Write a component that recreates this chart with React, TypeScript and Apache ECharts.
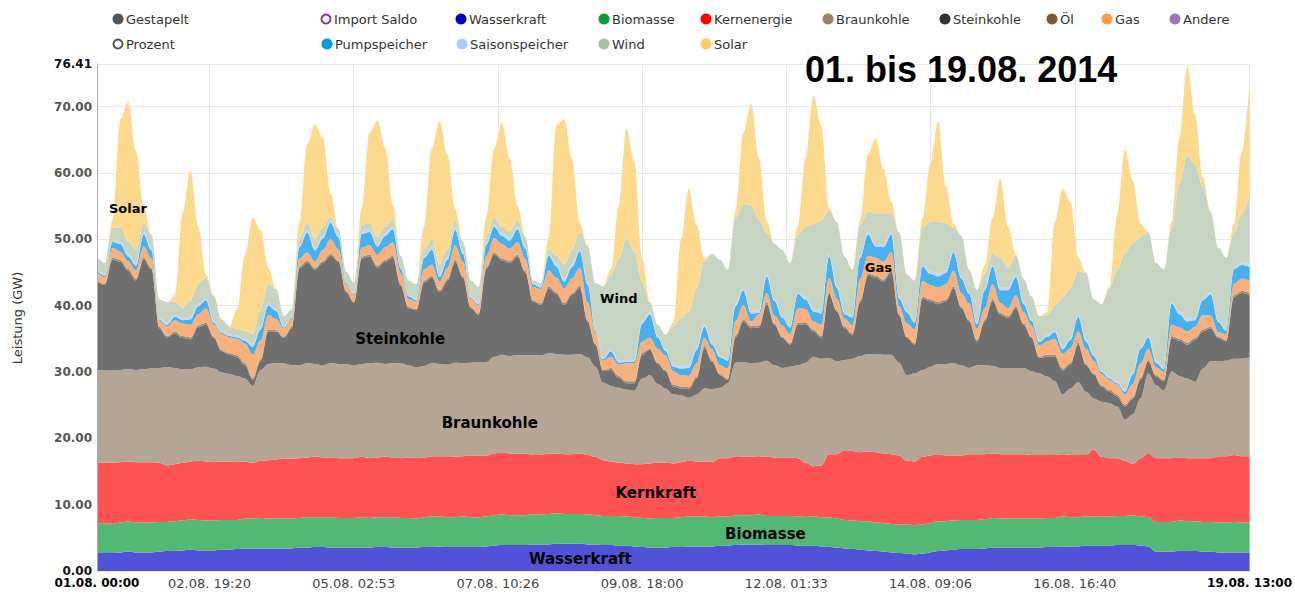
import React, { useEffect, useRef } from 'react';
import * as echarts from 'echarts';

// 3-hour samples from 01.08.2014 00:00 (index 0) to 19.08.2014 12:00 (index 148)
const START_MS = Date.UTC(2014, 7, 1, 0, 0, 0);
const STEP_HOURS = 3;
const HOUR_MS = 3600 * 1000;

const WASSERKRAFT = [
  2.7, 2.7, 2.7, 2.8, 2.9, 2.8, 2.8, 2.8,
  2.9, 3.0, 3.0, 3.1, 3.2, 3.1, 3.1, 3.1,
  3.2, 3.2, 3.3, 3.4, 3.4, 3.4, 3.4, 3.4,
  3.4, 3.4, 3.5, 3.5, 3.6, 3.6, 3.5, 3.5,
  3.5, 3.5, 3.5, 3.5, 3.6, 3.6, 3.5, 3.5,
  3.5, 3.5, 3.6, 3.6, 3.7, 3.6, 3.6, 3.6,
  3.6, 3.6, 3.7, 3.8, 3.9, 3.9, 3.9, 3.9,
  4.0, 4.0, 4.0, 4.1, 4.1, 4.1, 4.1, 4.0,
  4.0, 3.9, 3.9, 3.8, 3.8, 3.7, 3.6, 3.5,
  3.5, 3.5, 3.6, 3.6, 3.7, 3.7, 3.7, 3.7,
  3.8, 3.8, 3.9, 4.0, 4.0, 4.0, 3.9, 3.9,
  3.9, 3.9, 3.8, 3.8, 3.8, 3.7, 3.6, 3.5,
  3.4, 3.3, 3.2, 3.1, 3.0, 2.9, 2.8, 2.7,
  2.6, 2.5, 2.6, 2.8, 3.0, 3.1, 3.2, 3.3,
  3.3, 3.3, 3.4, 3.5, 3.5, 3.5, 3.5, 3.5,
  3.5, 3.5, 3.6, 3.6, 3.7, 3.7, 3.7, 3.8,
  3.8, 3.8, 3.8, 3.9, 3.9, 3.9, 3.8, 3.7,
  2.9, 2.9, 2.9, 3.0, 3.0, 3.0, 2.9, 2.9,
  2.8, 2.8, 2.8, 2.8, 2.8,
];

const BIOMASSE = [
  4.5, 4.5, 4.4, 4.5, 4.6, 4.5, 4.5, 4.5,
  4.5, 4.4, 4.5, 4.5, 4.6, 4.6, 4.5, 4.5,
  4.5, 4.5, 4.4, 4.5, 4.5, 4.6, 4.5, 4.5,
  4.5, 4.5, 4.5, 4.6, 4.5, 4.5, 4.6, 4.5,
  4.5, 4.5, 4.6, 4.5, 4.5, 4.5, 4.6, 4.5,
  4.5, 4.4, 4.5, 4.6, 4.5, 4.5, 4.5, 4.6,
  4.5, 4.5, 4.5, 4.6, 4.6, 4.5, 4.5, 4.5,
  4.5, 4.5, 4.6, 4.6, 4.5, 4.5, 4.5, 4.5,
  4.4, 4.4, 4.4, 4.5, 4.4, 4.4, 4.4, 4.4,
  4.5, 4.5, 4.4, 4.5, 4.5, 4.5, 4.5, 4.4,
  4.4, 4.4, 4.5, 4.4, 4.4, 4.5, 4.4, 4.4,
  4.4, 4.4, 4.4, 4.5, 4.4, 4.4, 4.5, 4.4,
  4.3, 4.3, 4.3, 4.4, 4.3, 4.3, 4.3, 4.3,
  4.4, 4.4, 4.4, 4.4, 4.5, 4.4, 4.4, 4.4,
  4.4, 4.4, 4.4, 4.5, 4.4, 4.4, 4.4, 4.4,
  4.4, 4.4, 4.4, 4.4, 4.5, 4.4, 4.4, 4.4,
  4.4, 4.4, 4.4, 4.4, 4.4, 4.5, 4.4, 4.4,
  4.5, 4.5, 4.5, 4.6, 4.5, 4.5, 4.5, 4.5,
  4.5, 4.5, 4.6, 4.5, 4.5,
];

const KERNENERGIE = [
  9.1, 9.1, 9.2, 9.1, 9.0, 9.1, 9.1, 9.1,
  8.9, 8.5, 8.6, 8.7, 8.7, 8.9, 8.9, 8.8,
  8.8, 8.8, 8.7, 8.6, 8.4, 8.6, 8.8, 8.9,
  9.0, 9.0, 9.0, 9.0, 9.1, 9.0, 9.0, 9.0,
  9.0, 9.0, 9.1, 9.0, 9.0, 9.1, 9.0, 9.0,
  9.1, 9.1, 9.0, 9.1, 9.1, 9.2, 9.1, 9.1,
  9.3, 9.3, 9.2, 9.3, 9.4, 9.3, 9.3, 9.3,
  9.0, 9.0, 9.1, 9.0, 9.0, 9.0, 9.1, 9.0,
  8.8, 8.4, 8.2, 8.0, 8.0, 8.0, 8.1, 8.3,
  8.3, 8.3, 8.2, 8.3, 8.4, 8.3, 8.3, 8.3,
  8.8, 8.8, 8.9, 8.8, 8.8, 8.8, 8.9, 8.8,
  8.8, 8.8, 8.8, 8.0, 7.6, 7.8, 9.5, 9.7,
  10.5, 10.5, 10.4, 10.5, 10.6, 10.5, 10.5, 10.4,
  9.6, 9.6, 10.2, 10.2, 10.1, 9.9, 9.8, 9.7,
  9.9, 9.9, 9.8, 9.7, 9.7, 9.7, 9.7, 9.7,
  9.6, 9.6, 9.5, 9.5, 9.4, 9.4, 9.4, 9.3,
  10.1, 9.0, 8.8, 8.7, 8.3, 7.7, 8.8, 9.7,
  9.6, 9.6, 9.6, 9.5, 9.5, 9.5, 9.6, 9.6,
  10.0, 10.0, 10.1, 10.0, 10.0,
];

const BRAUNKOHLE = [
  13.9, 13.9, 13.9, 13.9, 13.9, 13.9, 14.0, 14.1,
  14.3, 14.8, 14.5, 14.1, 13.9, 14.1, 14.3, 14.1,
  13.4, 13.2, 13.0, 12.5, 11.6, 13.7, 14.5, 14.5,
  14.4, 14.1, 14.0, 14.2, 14.0, 13.9, 14.2, 14.2,
  14.2, 14.0, 14.0, 14.3, 14.3, 14.0, 14.2, 14.3,
  13.9, 13.7, 13.8, 14.1, 13.9, 13.8, 14.2, 14.0,
  14.0, 14.1, 14.1, 14.6, 14.7, 14.7, 14.8, 14.8,
  15.0, 15.0, 15.1, 15.0, 15.0, 15.0, 15.0, 14.7,
  13.6, 11.7, 11.4, 11.3, 11.1, 11.1, 12.9, 13.3,
  11.9, 11.2, 10.4, 10.1, 9.5, 10.1, 11.0, 11.0,
  10.6, 11.3, 14.1, 14.3, 14.1, 14.1, 14.5, 13.9,
  13.5, 13.7, 14.0, 15.1, 16.5, 16.1, 14.5, 14.0,
  13.6, 13.9, 14.5, 14.7, 14.8, 14.9, 15.0, 14.0,
  12.9, 13.3, 13.1, 13.4, 13.6, 13.8, 13.9, 13.6,
  13.0, 13.4, 13.4, 13.2, 13.0, 13.0, 13.0, 13.0,
  12.6, 12.3, 11.8, 11.1, 9.0, 10.0, 11.0, 9.5,
  7.7, 8.3, 8.3, 7.8, 6.2, 7.5, 9.0, 12.0,
  11.0, 10.2, 13.1, 12.3, 12.0, 11.5, 13.5, 14.6,
  14.3, 14.4, 14.5, 14.7, 14.9,
];

const STEINKOHLE = [
  13.4, 12.9, 16.7, 16.3, 14.8, 13.5, 16.6, 15.0,
  6.0, 4.5, 5.2, 4.7, 4.5, 6.0, 6.3, 4.6,
  3.2, 2.9, 2.8, 2.0, 0.9, 1.3, 4.9, 4.8,
  3.8, 5.6, 14.6, 15.2, 14.2, 15.4, 16.2, 15.4,
  10.8, 9.4, 15.9, 16.1, 14.3, 15.4, 15.9, 11.7,
  8.6, 8.6, 12.6, 12.8, 10.8, 12.6, 15.2, 12.9,
  8.2, 7.1, 14.0, 15.4, 14.2, 14.0, 14.9, 12.5,
  8.1, 7.6, 9.8, 9.0, 7.5, 9.0, 10.0, 5.4,
  3.3, 1.7, 2.4, 1.5, 1.0, 1.1, 3.6, 3.8,
  3.0, 2.6, 1.2, 1.0, 1.3, 2.4, 6.1, 4.1,
  1.9, 0.5, 3.8, 6.1, 5.3, 5.3, 8.5, 6.1,
  4.5, 3.3, 6.1, 5.8, 3.8, 3.1, 9.6, 7.5,
  4.8, 3.6, 8.1, 11.8, 11.5, 11.0, 12.5, 7.1,
  5.6, 4.3, 10.8, 9.8, 9.0, 9.4, 11.3, 8.6,
  7.0, 3.6, 6.6, 9.8, 8.0, 7.5, 9.0, 6.5,
  5.0, 2.3, 3.0, 3.7, 3.6, 3.6, 5.6, 4.0,
  3.6, 2.3, 1.7, 1.5, 2.0, 2.3, 2.8, 1.8,
  1.3, 1.4, 5.0, 5.3, 5.1, 6.3, 5.6, 5.0,
  3.5, 2.9, 9.3, 9.9, 9.4,
];

const OEL = [
  0.2, 0.2, 0.3, 0.3, 0.3, 0.3, 0.3, 0.2,
  0.2, 0.2, 0.3, 0.3, 0.3, 0.3, 0.3, 0.2,
  0.2, 0.2, 0.3, 0.3, 0.3, 0.3, 0.3, 0.2,
  0.2, 0.2, 0.3, 0.3, 0.3, 0.3, 0.3, 0.2,
  0.2, 0.2, 0.3, 0.3, 0.3, 0.3, 0.3, 0.2,
  0.2, 0.2, 0.3, 0.3, 0.3, 0.3, 0.3, 0.2,
  0.2, 0.2, 0.3, 0.3, 0.3, 0.3, 0.3, 0.2,
  0.2, 0.2, 0.3, 0.3, 0.3, 0.3, 0.3, 0.2,
  0.2, 0.2, 0.3, 0.3, 0.3, 0.3, 0.3, 0.2,
  0.2, 0.2, 0.3, 0.3, 0.3, 0.3, 0.3, 0.2,
  0.2, 0.2, 0.3, 0.3, 0.3, 0.3, 0.3, 0.2,
  0.2, 0.2, 0.3, 0.3, 0.3, 0.3, 0.3, 0.2,
  0.2, 0.2, 0.3, 0.3, 0.3, 0.3, 0.3, 0.2,
  0.2, 0.2, 0.3, 0.3, 0.3, 0.3, 0.3, 0.2,
  0.2, 0.2, 0.3, 0.3, 0.3, 0.3, 0.3, 0.2,
  0.2, 0.2, 0.3, 0.3, 0.3, 0.3, 0.3, 0.2,
  0.2, 0.2, 0.3, 0.3, 0.3, 0.3, 0.3, 0.2,
  0.2, 0.2, 0.3, 0.3, 0.3, 0.3, 0.3, 0.2,
  0.2, 0.2, 0.3, 0.3, 0.3,
];

const GAS = [
  1.2, 1.0, 1.5, 1.2, 1.2, 1.2, 1.6, 1.4,
  0.9, 1.5, 1.7, 1.9, 1.9, 1.7, 2.2, 1.9,
  2.4, 2.4, 2.5, 3.0, 3.5, 2.8, 2.2, 1.7,
  1.2, 1.2, 1.2, 1.2, 0.9, 1.7, 2.2, 1.7,
  1.0, 0.9, 1.4, 1.4, 1.7, 1.9, 2.0, 1.7,
  1.2, 1.1, 1.7, 1.7, 1.3, 1.7, 2.2, 2.2,
  1.2, 1.2, 1.7, 2.2, 2.2, 1.9, 1.9, 1.8,
  2.0, 2.2, 2.4, 2.2, 2.2, 2.2, 2.7, 2.7,
  1.7, 1.4, 1.7, 1.7, 2.7, 2.7, 1.7, 1.7,
  2.1, 2.2, 2.0, 1.7, 1.7, 2.0, 1.2, 1.7,
  1.3, 1.5, 2.2, 2.2, 0.7, 1.7, 1.4, 1.2,
  1.7, 1.4, 2.2, 2.0, 1.2, 1.7, 2.2, 1.7,
  1.2, 1.2, 3.2, 2.7, 2.7, 2.7, 2.7, 1.2,
  2.0, 2.1, 2.3, 2.2, 2.2, 2.3, 2.4, 2.1,
  2.5, 1.7, 1.7, 2.2, 1.5, 1.2, 1.7, 1.7,
  1.7, 1.7, 2.0, 2.4, 2.2, 2.2, 1.7, 2.3,
  1.9, 1.7, 1.5, 1.5, 1.5, 2.0, 2.2, 1.7,
  1.2, 1.2, 1.7, 1.7, 1.7, 1.7, 2.2, 1.7,
  0.7, 0.9, 1.7, 1.9, 1.9,
];

const PUMPSPEICHER = [
  0.2, 0.2, 0.9, 1.2, 0.7, 0.7, 1.8, 1.2,
  0.2, 0.2, 0.5, 0.5, 0.8, 1.2, 1.2, 0.2,
  0.2, 0.2, 0.2, 0.4, 1.2, 1.7, 1.4, 1.2,
  0.2, 0.2, 1.7, 3.0, 1.7, 1.7, 2.5, 1.8,
  0.2, 0.2, 2.0, 2.0, 1.2, 1.7, 2.0, 0.7,
  0.4, 0.2, 1.7, 2.2, 0.7, 1.2, 2.3, 1.2,
  0.2, 0.2, 1.7, 1.7, 1.2, 1.2, 1.9, 1.6,
  0.4, 0.2, 2.2, 1.7, 1.0, 1.7, 2.5, 2.7,
  0.2, 0.2, 0.8, 0.3, 0.2, 0.2, 2.7, 3.5,
  1.7, 0.7, 0.7, 1.0, 1.2, 2.0, 1.7, 0.7,
  1.2, 1.2, 2.2, 2.2, 1.2, 0.2, 2.5, 2.2,
  1.2, 1.0, 2.2, 1.4, 1.5, 1.7, 3.2, 1.7,
  0.7, 1.2, 3.2, 3.2, 1.7, 2.2, 2.6, 1.2,
  1.7, 1.0, 2.2, 1.7, 1.7, 1.7, 2.7, 2.2,
  1.5, 0.7, 2.7, 2.7, 1.9, 2.7, 2.7, 1.2,
  0.7, 0.5, 0.7, 1.0, 0.7, 1.2, 2.2, 1.1,
  0.7, 0.3, 0.2, 0.2, 0.4, 1.4, 2.2, 1.7,
  0.7, 0.4, 3.2, 2.0, 1.5, 1.0, 2.2, 3.2,
  1.5, 0.5, 2.2, 2.0, 2.0,
];

const SAISONSPEICHER = [
  0.2, 0.2, 0.3, 0.4, 0.4, 0.4, 0.4, 0.3,
  0.2, 0.2, 0.3, 0.3, 0.4, 0.4, 0.4, 0.3,
  0.2, 0.2, 0.3, 0.3, 0.4, 0.4, 0.4, 0.3,
  0.2, 0.2, 0.3, 0.4, 0.4, 0.4, 0.4, 0.3,
  0.2, 0.2, 0.3, 0.4, 0.4, 0.4, 0.4, 0.3,
  0.2, 0.2, 0.3, 0.4, 0.4, 0.4, 0.4, 0.3,
  0.2, 0.2, 0.3, 0.4, 0.4, 0.4, 0.4, 0.3,
  0.2, 0.2, 0.3, 0.4, 0.4, 0.4, 0.4, 0.3,
  0.2, 0.2, 0.3, 0.3, 0.3, 0.3, 0.4, 0.3,
  0.2, 0.2, 0.3, 0.3, 0.3, 0.4, 0.4, 0.3,
  0.2, 0.2, 0.3, 0.4, 0.4, 0.4, 0.4, 0.3,
  0.2, 0.2, 0.3, 0.4, 0.4, 0.4, 0.4, 0.3,
  0.2, 0.2, 0.3, 0.4, 0.4, 0.4, 0.4, 0.3,
  0.2, 0.2, 0.3, 0.4, 0.4, 0.4, 0.4, 0.3,
  0.2, 0.2, 0.3, 0.4, 0.4, 0.4, 0.4, 0.3,
  0.2, 0.2, 0.3, 0.3, 0.3, 0.4, 0.4, 0.3,
  0.2, 0.2, 0.3, 0.3, 0.3, 0.4, 0.4, 0.3,
  0.2, 0.2, 0.3, 0.4, 0.4, 0.4, 0.4, 0.3,
  0.2, 0.2, 0.3, 0.4, 0.4,
];

const WIND = [
  2.0, 1.7, 1.8, 2.1, 2.0, 2.0, 1.3, 2.1,
  2.8, 3.2, 2.0, 1.5, 2.5, 3.0, 3.0, 3.8,
  1.8, 1.3, 1.0, 1.2, 1.5, 2.5, 2.8, 3.0,
  1.5, 1.0, 1.1, 1.0, 1.3, 1.3, 0.5, 1.0,
  1.5, 1.5, 1.1, 1.0, 1.0, 1.0, 1.2, 1.6,
  2.2, 2.2, 1.0, 1.2, 1.5, 1.2, 1.0, 1.5,
  2.4, 2.4, 1.0, 0.9, 1.0, 1.0, 0.9, 1.5,
  0.4, 0.5, 0.7, 1.2, 2.2, 2.2, 2.5, 5.5,
  7.0, 10.8, 11.2, 15.4, 18.4, 16.3, 5.8, 1.5,
  1.7, 2.2, 5.8, 7.3, 8.2, 9.0, 9.5, 13.4,
  14.5, 13.5, 13.0, 12.6, 15.9, 13.6, 6.1, 8.3,
  10.0, 9.5, 8.6, 10.6, 12.8, 13.6, 6.6, 9.6,
  8.5, 7.0, 4.6, 3.1, 4.6, 4.6, 3.0, 9.6,
  5.5, 6.2, 5.6, 7.4, 7.8, 7.1, 3.3, 6.1,
  3.4, 5.0, 2.2, 1.5, 4.5, 3.0, 2.8, 3.5,
  3.5, 3.7, 3.0, 3.8, 7.5, 7.5, 6.5, 10.0,
  8.3, 10.0, 13.3, 16.8, 20.6, 19.4, 16.4, 15.6,
  14.8, 14.8, 11.1, 19.3, 24.6, 23.1, 16.8, 12.1,
  11.0, 10.8, 5.1, 7.3, 10.6,
];

const SOLAR = [
  0, 0, 1.2, 16.3, 20.9, 14.9, 2.5, 0,
  0, 0, 0.9, 14.4, 19.6, 8.6, 0.5, 0,
  0, 0, 3.0, 11.4, 17.6, 12.1, 2.5, 0,
  0, 0, 2.3, 12.0, 17.3, 13.5, 3.5, 0,
  0, 0, 2.5, 13.6, 17.6, 11.9, 2.1, 0,
  0, 0, 3.4, 13.7, 21.6, 14.2, 1.8, 0,
  0, 0, 2.9, 10.5, 15.6, 10.9, 2.3, 0,
  0, 0, 1.7, 19.7, 21.9, 13.7, 1.3, 0,
  0, 0, 0.9, 8.0, 16.5, 13.6, 3.6, 0,
  0, 0, 0.5, 11.9, 18.5, 9.4, 0.4, 0,
  0, 0, 1.0, 10.8, 15.3, 9.3, 1.8, 0,
  0, 0, 1.3, 10.3, 19.3, 14.3, 0.3, 0,
  0, 0, 0.8, 8.7, 11.3, 6.8, 1.5, 0,
  0, 0, 1.3, 8.7, 15.1, 5.5, 0.6, 0,
  0, 0, 1.2, 5.4, 11.9, 6.1, 0.2, 0,
  0, 0, 0.4, 12.6, 16.4, 12.9, 2.0, 0,
  0, 0, 0.2, 8.3, 15.6, 9.5, 2.0, 0,
  0, 0, 1.0, 7.0, 13.5, 7.5, 1.3, 0,
  0, 0, 1.3, 9.3, 16.6,
];

// x-axis tick positions (hours after 01.08. 00:00) and their labels
const X_TICK_HOURS = [0, 43.333, 98.883, 154.433, 210, 265.55, 321.1, 376.667, 444];
const X_TICK_LABELS = [
  '01.08. 00:00', '02.08. 19:20', '05.08. 02:53', '07.08. 10:26', '09.08. 18:00',
  '12.08. 01:33', '14.08. 09:06', '16.08. 16:40', '19.08. 13:00',
];
const X_MAX_HOURS = 444;
const Y_TICKS = [0, 10, 20, 30, 40, 50, 60, 70, 76.41];
const Y_MAX = 76.41;

// in-chart annotations: [text, hour, GW, fontSize]
const ANNOTATIONS: [string, number, number, number][] = [
  ['Solar', 11.9, 54.6, 13],
  ['Wind', 201, 41.1, 13],
  ['Gas', 301, 45.8, 13],
  ['Steinkohle', 116.8, 35.0, 15],
  ['Braunkohle', 151.3, 22.3, 15],
  ['Kernkraft', 215.3, 11.8, 15],
  ['Biomasse', 257.5, 5.6, 15],
  ['Wasserkraft', 186.2, 1.8, 15],
];

const SERIES_DEF: { name: string; data: number[]; color: string }[] = [
  { name: 'Wasserkraft', data: WASSERKRAFT, color: '#5252d9' },
  { name: 'Biomasse', data: BIOMASSE, color: '#52b874' },
  { name: 'Kernenergie', data: KERNENERGIE, color: '#ff5252' },
  { name: 'Braunkohle', data: BRAUNKOHLE, color: '#b5a594' },
  { name: 'Steinkohle', data: STEINKOHLE, color: '#6f6f6f' },
  { name: 'Öl', data: OEL, color: '#9c8a74' },
  { name: 'Gas', data: GAS, color: '#f8b07c' },
  { name: 'Pumpspeicher', data: PUMPSPEICHER, color: '#48b0ec' },
  { name: 'Saisonspeicher', data: SAISONSPEICHER, color: '#c4d4f6' },
  { name: 'Wind', data: WIND, color: '#c6d4c1' },
  { name: 'Solar', data: SOLAR, color: '#fdd98e' },
];

// legend entries: [label, cx, cy, color, hollow]
const LEGEND: [string, number, number, string, boolean][] = [
  ['Gestapelt', 118, 19, '#555555', false],
  ['Import Saldo', 326, 19, '#993399', true],
  ['Wasserkraft', 461, 19, '#0000c0', false],
  ['Biomasse', 604, 19, '#0a9a3c', false],
  ['Kernenergie', 706, 19, '#ff0000', false],
  ['Braunkohle', 828, 19, '#9b8466', false],
  ['Steinkohle', 945, 19, '#333333', false],
  ['Öl', 1052, 19, '#7a5a3c', false],
  ['Gas', 1107, 19, '#ff9944', false],
  ['Andere', 1175, 19, '#9977bb', false],
  ['Prozent', 118, 44, '#555555', true],
  ['Pumpspeicher', 327, 44, '#0099dd', false],
  ['Saisonspeicher', 462, 44, '#aaccff', false],
  ['Wind', 604, 44, '#a9bf9f', false],
  ['Solar', 706, 44, '#ffcc66', false],
];

const FONT = 'DejaVu Sans, Verdana, sans-serif';
const GRID_LINE = 'rgba(0,0,0,0.09)';

const toMs = (h: number) => START_MS + h * HOUR_MS;

export default function App() {
  const ref = useRef<HTMLDivElement>(null);

  useEffect(() => {
    if (!ref.current) return;
    const chart = echarts.init(ref.current, null, { renderer: 'svg' });
    const times = SOLAR.map((_, i) => toMs(i * STEP_HOURS));

    const series: any[] = SERIES_DEF.map((s) => ({
      type: 'line',
      name: s.name,
      stack: 'total',
      xAxisIndex: 0,
      yAxisIndex: 0,
      data: times.map((t, i) => [t, s.data[i]]),
      symbol: 'none',
      smooth: 0.35,
      smoothMonotone: 'x',
      lineStyle: { width: 0 },
      itemStyle: { color: s.color },
      areaStyle: { color: s.color, opacity: 1 },
      emphasis: { disabled: true },
    }));

    const graphic: any[] = [
      {
        type: 'text',
        left: 805,
        top: 51,
        z: 100,
        silent: true,
        style: {
          text: '01. bis 19.08. 2014',
          fill: '#000',
          font: 'bold 36px "Liberation Sans", Arial, sans-serif',
        },
      },
      {
        type: 'text',
        x: 17,
        y: 318,
        rotation: Math.PI / 2,
        silent: true,
        style: {
          text: 'Leistung (GW)',
          fill: '#333',
          font: '13px ' + FONT,
          textAlign: 'center',
          textVerticalAlign: 'middle',
        },
      },
    ];
    LEGEND.forEach(([label, cx, cy, color, hollow]) => {
      graphic.push({
        type: 'circle',
        silent: true,
        shape: { cx, cy, r: hollow ? 4.5 : 5.5 },
        style: hollow
          ? { fill: '#fff', stroke: color, lineWidth: 2 }
          : { fill: color },
      });
      graphic.push({
        type: 'text',
        silent: true,
        x: cx + 8,
        y: cy,
        style: {
          text: label,
          fill: '#333',
          font: '13px ' + FONT,
          textVerticalAlign: 'middle',
        },
      });
    });

    const lastIdx = X_TICK_LABELS.length - 1;

    chart.setOption({
      animation: false,
      backgroundColor: '#ffffff',
      grid: { left: 97, right: 37, top: 64, bottom: 23, containLabel: false },
      xAxis: [
        {
          type: 'time',
          min: toMs(0),
          max: toMs(X_MAX_HOURS),
          show: false,
          splitLine: { show: false },
        },
        {
          type: 'value',
          position: 'bottom',
          offset: 0,
          min: 0,
          max: X_MAX_HOURS,
          z: 3,
          axisLine: { show: false },
          axisTick: { show: false, customValues: X_TICK_HOURS },
          splitLine: { show: true, lineStyle: { color: GRID_LINE, width: 1 } },
          axisLabel: {
            customValues: X_TICK_HOURS,
            showMinLabel: true,
            showMaxLabel: true,
            hideOverlap: false,
            margin: 6,
            formatter: (v: number) => {
              let idx = 0;
              let best = Infinity;
              X_TICK_HOURS.forEach((t, i) => {
                const d = Math.abs(t - v);
                if (d < best) { best = d; idx = i; }
              });
              const s = X_TICK_LABELS[idx];
              return idx === 0 || idx === lastIdx ? `{e|${s}}` : `{m|${s}}`;
            },
            rich: {
              e: { fontFamily: FONT, fontWeight: 'bold', fontSize: 12, color: '#000' },
              m: { fontFamily: FONT, fontSize: 13, color: '#444' },
            },
          },
        },
      ],
      yAxis: {
        type: 'value',
        min: 0,
        max: Y_MAX,
        z: 3,
        axisLine: { show: true, lineStyle: { color: '#aaaaaa' } },
        axisTick: { show: false, customValues: Y_TICKS },
        splitLine: { show: true, lineStyle: { color: GRID_LINE, width: 1 } },
        axisLabel: {
          customValues: Y_TICKS,
          showMinLabel: true,
          showMaxLabel: true,
          margin: 5,
          formatter: (v: number) => {
            const s = v.toFixed(2);
            return v === 0 || Math.abs(v - Y_MAX) < 1e-6 ? `{e|${s}}` : `{m|${s}}`;
          },
          rich: {
            e: { fontFamily: FONT, fontWeight: 'bold', fontSize: 12, color: '#111' },
            m: { fontFamily: FONT, fontWeight: 'bold', fontSize: 12, color: '#555' },
          },
        },
      },
      series,
      graphic,
    });

    // in-chart annotations, positioned from data coordinates through the chart's scales
    ANNOTATIONS.forEach(([text, h, v, fs]) => {
      const p = chart.convertToPixel({ xAxisIndex: 0, yAxisIndex: 0 }, [toMs(h), v]) as number[];
      if (!p) return;
      graphic.push({
        type: 'text',
        silent: true,
        z: 50,
        x: p[0],
        y: p[1],
        style: {
          text,
          fill: '#000',
          font: `bold ${fs}px ${FONT}`,
          textAlign: 'center',
          textVerticalAlign: 'middle',
        },
      });
    });
    chart.setOption({ graphic });

    return () => chart.dispose();
  }, []);

  return (
    <div
      ref={ref}
      style={{ position: 'fixed', left: 0, top: 0, width: 1295, height: 594, background: '#fff' }}
    />
  );
}
